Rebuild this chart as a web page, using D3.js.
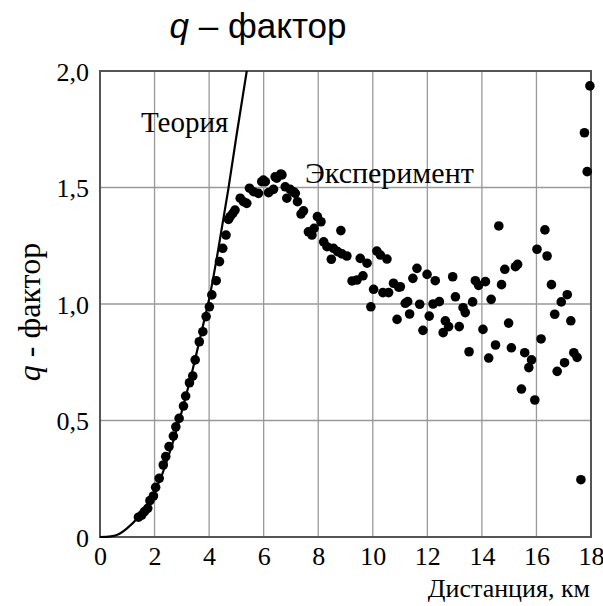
<!DOCTYPE html>
<html lang="ru">
<head>
<meta charset="UTF-8">
<title>q – фактор</title>
<script src="https://d3js.org/d3.v7.min.js"></script>
<style>
  body { margin: 0; background: #fff; }
</style>
</head>
<body>
<script>
// data
const xTicks = [0, 2, 4, 6, 8, 10, 12, 14, 16, 18];
const yTicks = [0, 0.5, 1.0, 1.5, 2.0];
const yTickLabels = ["0", "0,5", "1,0", "1,5", "2,0"];

// theory curve (distance km, q)
const theoryX = [0, 0.4, 0.7, 1.0, 1.4, 1.8, 2.2, 2.6, 3.0, 3.4, 3.8, 4.0, 4.3, 4.7, 5.0, 5.38];
const theoryQ = [0, 0.003, 0.013, 0.038, 0.085, 0.15, 0.245, 0.38, 0.54, 0.72, 0.92, 1.02, 1.21, 1.49, 1.72, 2.0];

// experiment points
const expX = [1.41, 1.53, 1.63, 1.75, 1.83, 1.96, 2.04, 2.17, 2.32, 2.41, 2.53, 2.69, 2.78, 2.9, 3.06, 3.14, 3.28, 3.4, 3.49, 3.64,
  3.77, 3.89, 4.01, 4.1, 4.26, 4.38, 4.5, 4.62, 4.71, 4.77, 4.87, 4.95, 5.14, 5.26, 5.38, 5.48, 5.63, 5.81, 5.93, 5.99,
  6.06, 6.18, 6.36, 6.42, 6.48, 6.63, 6.67, 6.79, 6.85, 6.97, 7.09, 7.16, 7.24, 7.37, 7.46, 7.64, 7.77, 7.85, 7.97, 8.1,
  8.2, 8.32, 8.48, 8.56, 8.71, 8.83, 8.87, 9.05, 9.24, 9.42, 9.54, 9.64, 9.79, 9.93, 10.03, 10.15, 10.28, 10.37, 10.52, 10.58,
  10.76, 10.89, 10.95, 11.01, 11.19, 11.28, 11.35, 11.47, 11.62, 11.72, 11.84, 11.99, 12.07, 12.21, 12.29, 12.44, 12.58, 12.66, 12.78, 12.93,
  13.03, 13.17, 13.31, 13.39, 13.53, 13.66, 13.76, 13.88, 14.04, 14.13, 14.25, 14.34, 14.5, 14.62, 14.72, 14.84, 14.98, 15.08, 15.23, 15.31,
  15.45, 15.57, 15.72, 15.82, 15.94, 16.02, 16.17, 16.31, 16.39, 16.55, 16.67, 16.76, 16.91, 17.03, 17.13, 17.26, 17.37, 17.49, 17.63, 17.76,
  17.86, 17.96];
const expQ = [0.085, 0.094, 0.109, 0.123, 0.156, 0.176, 0.213, 0.252, 0.309, 0.345, 0.388, 0.433, 0.473, 0.509, 0.562, 0.605, 0.662, 0.691, 0.76, 0.838,
  0.881, 0.946, 0.988, 1.039, 1.10, 1.182, 1.239, 1.296, 1.363, 1.375, 1.389, 1.403, 1.454, 1.439, 1.432, 1.497, 1.482, 1.475, 1.525, 1.532,
  1.525, 1.478, 1.492, 1.546, 1.54, 1.558, 1.554, 1.503, 1.454, 1.492, 1.482, 1.475, 1.439, 1.386, 1.40, 1.31, 1.296, 1.325, 1.375, 1.353,
  1.267, 1.246, 1.192, 1.239, 1.225, 1.315, 1.215, 1.206, 1.099, 1.103, 1.196, 1.121, 1.175, 0.988, 1.063, 1.227, 1.21, 1.049, 1.193, 1.049,
  1.089, 0.934, 1.072, 1.074, 1.003, 1.01, 0.957, 1.11, 1.153, 0.999, 0.887, 1.127, 0.948, 1.0, 1.10, 1.01, 0.877, 0.928, 0.903, 1.117,
  1.031, 0.903, 0.984, 0.963, 0.795, 1.009, 1.10, 1.08, 0.891, 1.096, 0.768, 1.02, 0.824, 1.335, 1.083, 1.149, 0.918, 0.812, 1.16, 1.17,
  0.635, 0.791, 0.727, 0.76, 0.588, 1.235, 0.85, 1.318, 1.206, 1.083, 0.956, 0.711, 1.009, 0.748, 1.04, 0.928, 0.791, 0.771, 0.246, 1.735,
  1.568, 1.936];

const serif = "Liberation Serif";
const width = 603, height = 606;
const margin = { left: 100, right: 12, top: 71, bottom: 69 };

const svg = d3.select("body").append("svg")
  .attr("width", width)
  .attr("height", height);

const x = d3.scaleLinear().domain([0, 18]).range([margin.left, width - margin.right]);
const y = d3.scaleLinear().domain([0, 2]).range([height - margin.bottom, margin.top]);

// grid
svg.append("g")
  .selectAll("line")
  .data(xTicks.slice(1, -1))
  .enter().append("line")
  .attr("x1", d => x(d)).attr("x2", d => x(d))
  .attr("y1", y(0)).attr("y2", y(2))
  .attr("stroke", "#999").attr("stroke-width", 1.3);

svg.append("g")
  .selectAll("line")
  .data(yTicks.slice(1, -1))
  .enter().append("line")
  .attr("x1", x(0)).attr("x2", x(18))
  .attr("y1", d => y(d)).attr("y2", d => y(d))
  .attr("stroke", "#999").attr("stroke-width", 1.3);

// frame
svg.append("rect")
  .attr("x", x(0)).attr("y", y(2))
  .attr("width", x(18) - x(0)).attr("height", y(0) - y(2))
  .attr("fill", "none").attr("stroke", "#555").attr("stroke-width", 2);

// axes (labels only)
const xAxis = svg.append("g")
  .attr("transform", `translate(0,${y(0)})`)
  .call(d3.axisBottom(x).tickValues(xTicks).tickSize(0).tickPadding(9).tickFormat(d3.format("d")));
const yAxis = svg.append("g")
  .attr("transform", `translate(${x(0)},0)`)
  .call(d3.axisLeft(y).tickValues(yTicks).tickSize(0).tickPadding(11).tickFormat((d, i) => yTickLabels[i]));
[xAxis, yAxis].forEach(a => {
  a.select(".domain").remove();
  a.attr("font-family", serif).attr("font-size", 26);
  a.selectAll("text").attr("fill", "#000");
});
xAxis.selectAll("text").attr("dy", "0.72em");
yAxis.selectAll("text").attr("dy", "0.35em");

// theory line
const theory = theoryX.map((d, i) => [d, theoryQ[i]]);
svg.append("path")
  .datum(theory)
  .attr("fill", "none")
  .attr("stroke", "#000")
  .attr("stroke-width", 2.2)
  .attr("d", d3.line().x(d => x(d[0])).y(d => y(d[1])).curve(d3.curveMonotoneX));

// experiment points
const points = expX.map((d, i) => [d, expQ[i]]);
svg.append("g")
  .selectAll("circle")
  .data(points)
  .enter().append("circle")
  .attr("cx", d => x(d[0]))
  .attr("cy", d => y(d[1]))
  .attr("r", 4.8)
  .attr("fill", "#000");

// annotations
svg.append("text")
  .attr("x", 141).attr("y", 132)
  .attr("font-family", serif).attr("font-size", 29)
  .text("Теория");
svg.append("text")
  .attr("x", 305).attr("y", 183)
  .attr("font-family", serif).attr("font-size", 30)
  .text("Эксперимент");

// x label
svg.append("text")
  .attr("x", 590).attr("y", 597)
  .attr("text-anchor", "end")
  .attr("font-family", serif).attr("font-size", 26)
  .text("Дистанция, км");

// y label
const yl = svg.append("text")
  .attr("transform", "translate(40,312) rotate(-90)")
  .attr("text-anchor", "middle")
  .attr("font-family", serif).attr("font-size", 32);
yl.append("tspan").attr("font-style", "italic").text("q");
yl.append("tspan").text(" - фактор");

// title
const t = svg.append("text")
  .attr("x", 258).attr("y", 38)
  .attr("text-anchor", "middle")
  .attr("font-family", "Liberation Sans")
  .attr("font-size", 35);
t.append("tspan").attr("font-style", "italic").text("q");
t.append("tspan").text(" – фактор");
</script>
</body>
</html>
